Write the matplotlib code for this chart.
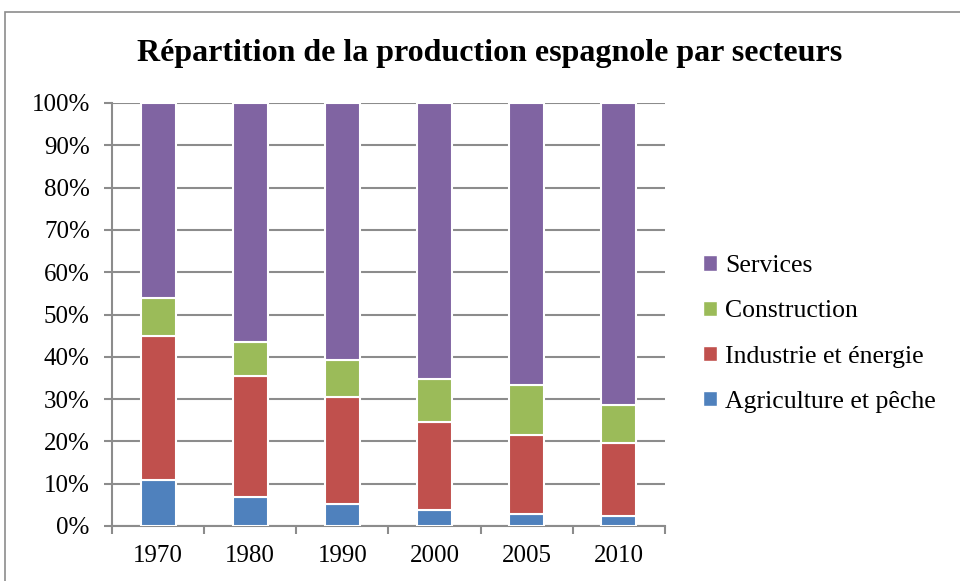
import matplotlib
matplotlib.use("Agg")
import matplotlib.pyplot as plt
from matplotlib.patches import Rectangle, Patch
import numpy as np

years = ["1970", "1980", "1990", "2000", "2005", "2010"]
agriculture = [10.8, 6.9, 5.3, 3.9, 2.8, 2.4]
industrie = [34.0, 28.6, 25.2, 20.7, 18.8, 17.2]
construction = [9.0, 7.9, 8.8, 10.1, 11.7, 8.9]
services = [46.2, 56.6, 60.7, 65.3, 66.7, 71.5]

series = [
    ("Agriculture et pêche", agriculture, "#4F81BD"),
    ("Industrie et énergie", industrie, "#C0504D"),
    ("Construction", construction, "#9BBB59"),
    ("Services", services, "#8064A2"),
]

plt.rcParams['font.family'] = ['Liberation Serif', 'DejaVu Serif']

fig = plt.figure(figsize=(9.6, 5.81), dpi=100)
fig.patches.append(Rectangle((5/960, -0.1), 1.2, 1 - 12/581 + 0.1, transform=fig.transFigure,
                             fill=False, edgecolor="#8c8c8c", linewidth=1.2))

ax = fig.add_axes([112/960, 1 - 526/581, (665-112)/960, (526-103)/581])
x = np.arange(len(years))
bottom = np.zeros(len(years))
handles = []
for name, vals, color in series:
    ax.bar(x, vals, bottom=bottom, width=0.38, color=color, edgecolor="white",
           linewidth=1.5, zorder=3)
    bottom += np.array(vals)
    handles.append(Patch(facecolor=color, edgecolor="white", label=name))

ax.set_xlim(-0.5, len(years) - 0.5)
ax.set_ylim(0, 100)
ax.set_yticks(np.arange(0, 101, 10))
ax.set_yticklabels([f"{v}%" for v in range(0, 101, 10)], fontsize=18)
ax.set_xticks(x)
ax.set_xticklabels(years, fontsize=18)
ax.tick_params(axis='x', length=0, pad=14)
ax.set_xticks(np.arange(-0.5, len(years)), minor=True)
ax.tick_params(axis='x', which='minor', length=6, color="#8c8c8c", width=1.5)
ax.tick_params(axis='y', length=6, color="#8c8c8c", width=1.5, pad=10)
ax.grid(axis='y', color="#8c8c8c", linewidth=1.5, zorder=0)
for s in ["top", "right"]:
    ax.spines[s].set_visible(False)
for s in ["left", "bottom"]:
    ax.spines[s].set_color("#8c8c8c")
    ax.spines[s].set_linewidth(1.5)

fig.text(490/960, 1 - 53/581, "Répartition de la production espagnole par secteurs",
         ha="center", va="center", fontsize=23, fontweight="bold")

fig.legend(handles=handles[::-1], loc="center left", bbox_to_anchor=(680/960, 1 - 334/581),
           frameon=False, fontsize=18.5, handlelength=0.55, handleheight=0.55,
           handletextpad=0.3, labelspacing=0.9)

fig.savefig("out.png", dpi=100)
